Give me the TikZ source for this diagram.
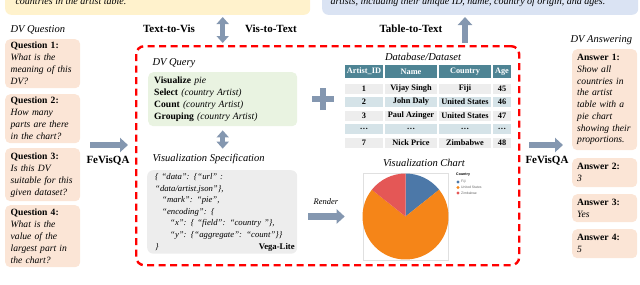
\documentclass[tikz,border=0pt]{standalone}
\usepackage{fontspec}
\setmainfont{Liberation Serif}
\setsansfont{Liberation Sans}
\usetikzlibrary{arrows.meta,positioning}
\definecolor{peach}{HTML}{FBE5D6}
\definecolor{lemon}{HTML}{FFF2CC}
\definecolor{paleblue}{HTML}{DAE3F3}
\definecolor{palegreen}{HTML}{E9F3E1}
\definecolor{codegray}{HTML}{EDEDED}
\definecolor{arrowgray}{HTML}{8497B0}
\definecolor{headteal}{HTML}{4E8494}
\definecolor{rowblue}{HTML}{D5E3E8}
\definecolor{rowgray}{HTML}{EDEDED}
\definecolor{fijiblue}{HTML}{4C78A8}
\definecolor{usorange}{HTML}{F58518}
\definecolor{zimred}{HTML}{E45756}
\tikzset{
  qbox/.style={fill=peach, rounded corners=5pt, anchor=north west, align=left,
    text width=64pt, inner xsep=5.5pt, inner ysep=1pt, font=\fontsize{9.6}{12}\selectfont},
  abox/.style={qbox, text width=55pt, inner xsep=5pt, font=\fontsize{9.6}{11.7}\selectfont},
  fat/.style={draw=arrowgray, line width=6.5pt, -{Triangle[length=8pt,width=14pt]}},
  fatboth/.style={draw=arrowgray, line width=5pt,
    {Triangle[length=7pt,width=12pt]}-{Triangle[length=7pt,width=12pt]}},
  tag/.style={font=\fontsize{10.5}{12}\selectfont\itshape},
  head/.style={font=\fontsize{11}{12}\selectfont\bfseries},
  cell/.style={minimum height=10pt, inner sep=0pt, font=\fontsize{8.3}{9}\selectfont\bfseries},
}
\begin{document}
\begin{tikzpicture}[x=1pt, y=-1pt]
  \useasboundingbox (0,0) rectangle (640,284);
  \clip (0,0) rectangle (640,284);
  % text boxes cut off at the top
  \node[fill=lemon, rounded corners=6pt, minimum width=305pt, minimum height=40pt, anchor=south west] (nlq) at (5,15) {};
  \node[fill=paleblue, rounded corners=6pt, minimum width=316pt, minimum height=40pt, anchor=south west] (desc) at (322,15) {};
  \node[anchor=base west, font=\fontsize{10}{12}\selectfont\itshape] (nlq-txt) at (12,4) {countries in the artist table.};
  \node[anchor=base west, font=\fontsize{10}{12}\selectfont\itshape] (desc-txt) at (327,4) {artists, including their unique ID, name, country of origin, and ages.};
  % dashed frame
  \node[draw=red, dash pattern=on 7pt off 4.5pt, line width=2.4pt, rounded corners=8pt,
    minimum width=383pt, minimum height=219pt, anchor=north west] (main) at (135,45) {};
  \node[head] (t2v) at (169,29) {Text-to-Vis};
  \node[head] (v2t) at (271,29) {Vis-to-Text};
  \node[head] (tb2t) at (411,29) {Table-to-Text};
  % questions
  \node[tag, anchor=west] (q-lbl) at (7,30) {DV Question};
  \node[qbox, minimum height=49pt] (q1) at (5,39) {\textbf{Question 1:}\\ \itshape What is the\\ meaning of this\\ DV?};
  \node[qbox, minimum height=49pt] (q2) at (5,94) {\textbf{Question 2:}\\ \itshape How many\\ parts are there\\ in the chart?};
  \node[qbox, minimum height=53pt] (q3) at (5,148) {\textbf{Question 3:}\\ \itshape Is this DV\\ suitable for this\\ given dataset?};
  \node[qbox, minimum height=62pt] (q4) at (5,205) {\textbf{Question 4:}\\ \itshape What is the\\ value of the\\ largest part in\\ the chart?};
  \coordinate (in) at (90,145);
  \draw[fat, shorten >=7pt] (in) -- (in -| main.west);
  \node[head] (fv-l) at (108,161) {FeVisQA};
  % answers
  \node[tag, anchor=west] (a-lbl) at (567,40) {DV Answering};
  \node[abox, minimum height=101pt] (a1) at (572,49) {\textbf{Answer 1:}\\ \itshape Show all\\ countries in\\ the artist\\ table with a\\ pie chart\\ showing their\\ proportions.};
  \node[abox, minimum height=29pt] (a2) at (572,158) {\textbf{Answer 2:}\\ \itshape 3};
  \node[abox, minimum height=28pt] (a3) at (572,194) {\textbf{Answer 3:}\\ \itshape Yes};
  \node[abox, minimum height=29pt] (a4) at (572,229) {\textbf{Answer 4:}\\ \itshape 5};
  \coordinate (out) at (545,145);
  \draw[fat, shorten <=9pt, shorten >=9pt] (out -| main.east) -- (out -| a1.west);
  \node[head] (fv-r) at (547,161) {FeVisQA};
  % query and spec
  \node[tag, anchor=west] (query-lbl) at (149,63) {DV Query};
  \node[fill=palegreen, rounded corners=5pt, anchor=north west, minimum width=149pt, minimum height=54pt,
    text width=137pt, inner xsep=6pt, align=left, font=\fontsize{9.6}{11.8}\selectfont] (query) at (148,72)
    {\textbf{Visualize} \textit{pie}\\ \textbf{Select} \textit{(country Artist)}\\ \textbf{Count} \textit{(country Artist)}\\ \textbf{Grouping} \textit{(country Artist)}};
  \node[tag, anchor=west] (spec-lbl) at (149,159) {Visualization Specification};
  \node[fill=codegray, rounded corners=6pt, anchor=north west, minimum width=150pt, minimum height=83pt,
    text width=134pt, inner xsep=8pt, align=left, font=\fontsize{8.7}{11.6}\selectfont\itshape] (spec) at (147,170)
    {\{ “data”: \{“url” :\\ “data/artist.json”\},\\ \hspace{7pt}“mark”: “pie”,\\ \hspace{7pt}“encoding”: \{\\
     \hspace{15pt}“x”: \{ “field”: “country ”\},\\ \hspace{15pt}“y”: \{“aggregate”: “count”\}\}\\ \}};
  \node[anchor=south east, inner sep=2.5pt, font=\fontsize{8.7}{10}\selectfont\bfseries] (vl) at (spec.south east) {Vega-Lite};
  \draw[fatboth, shorten <=2pt, shorten >=2pt] (nlq.south -| query.north) -- (main.north -| query.north);
  \draw[fatboth, shorten <=4pt, shorten >=2pt] (query.south) -- (spec-lbl.north -| query.south);
  % table
  \coordinate (plus) at (323,99);
  \draw[arrowgray, line width=6pt] ([xshift=-11pt]plus) -- ([xshift=11pt]plus);
  \draw[arrowgray, line width=6pt] ([yshift=-11pt]plus) -- ([yshift=11pt]plus);
  \node[tag] (db-lbl) at (423,57) {Database/Dataset};
  \foreach \x/\w/\t [count=\j] in {364/38/Artist\_ID, 411/52/Name, 465/52/Country, 502/18/Age}
    \node[cell, fill=headteal, text=white, minimum width=\w pt, minimum height=13pt] (h-\j) at (\x,71.5) {\t};
  \foreach \y/\a/\b/\c/\d/\f [count=\i] in {88.5/1/Vijay Singh/Fiji/45/rowgray,
      102/2/John Daly/United States/46/rowblue, 116/3/Paul Azinger/United States/47/rowgray,
      128.5/\ldots/\ldots/\ldots/\ldots/rowblue, 142.5/7/Nick Price/Zimbabwe/48/rowgray} {
    \node[cell, fill=\f, minimum width=38pt] (r\i-1) at (364,\y) {\a};
    \node[cell, fill=\f, minimum width=52pt] (r\i-2) at (411,\y) {\b};
    \node[cell, fill=\f, minimum width=52pt] (r\i-3) at (465,\y) {\c};
    \node[cell, fill=\f, minimum width=18pt] (r\i-4) at (502,\y) {\d};
  }
  \draw[fat, shorten <=2pt, shorten >=2pt] (main.north -| h-3.north) -- (desc.south -| h-3.north);
  % chart
  \node[tag] (chart-lbl) at (424,163) {Visualization Chart};
  \node[draw=black!12, line width=0.6pt, minimum width=85pt, minimum height=87pt] (chart) at (405.5,216.5) {};
  \begin{scope}[shift={(chart.center)}, y=1pt]
    \fill[fijiblue] (0,0) -- (90:43) arc (90:38.57:43) -- cycle;
    \fill[usorange] (0,0) -- (38.57:43) arc (38.57:-218.57:43) -- cycle;
    \fill[zimred] (0,0) -- (141.43:43) arc (141.43:90:43) -- cycle;
  \end{scope}
  \node[anchor=west, inner sep=0pt, font=\sffamily\bfseries\fontsize{3.6}{4}\selectfont] (leg) at (456,175) {Country};
  \foreach \c/\t/\y [count=\i] in {fijiblue/Fiji/182, usorange/United States/187.5, zimred/Zimbabwe/193} {
    \fill[\c] (458,\y) circle[radius=1.7pt];
    \node[anchor=west, inner sep=0pt, text=black!60, font=\sffamily\fontsize{3.4}{4}\selectfont] (leg-\i) at (461,\y) {\t};
  }
  \node[font=\fontsize{8.5}{10}\selectfont\itshape] (render) at (326,202) {Render};
  \draw[fat, shorten <=11pt, shorten >=18pt] (spec.east |- chart.west) -- (chart.west);
\end{tikzpicture}
\end{document}
